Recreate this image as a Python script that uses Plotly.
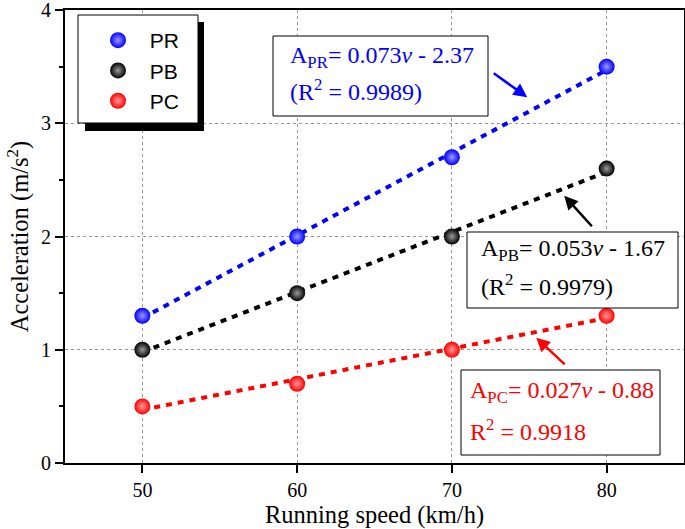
import plotly.graph_objects as go

# ---- data ----
speed = [50, 60, 70, 80]
pr = [1.3, 2.0, 2.7, 3.5]
pb = [1.0, 1.5, 2.0, 2.6]
pc = [0.5, 0.7, 1.0, 1.3]

fit_x = [50, 80]
pr_fit = [1.28, 3.47]
pb_fit = [0.98, 2.57]
pc_fit = [0.47, 1.28]

series_names = ["PR", "PB", "PC"]
colors = ["#0000ff", "#000000", "#ff0000"]
highlight = ["#9a9aff", "#9a9a9a", "#ff9a9a"]

x_ticks = [50, 60, 70, 80]
y_ticks = [0, 1, 2, 3, 4]

W, H = 685, 529
L, R, T, B = 65, 684, 10, 463  # plot area in px


def px(x):
    return (x - L) / (R - L)


def py(y):
    return (B - y) / (B - T)


SERIF = "Liberation Serif, Times New Roman, serif"
SANS = "Liberation Sans, Arial, sans-serif"

fig = go.Figure()

fits = [pr_fit, pb_fit, pc_fit]
vals = [pr, pb, pc]
for name, c, f in zip(series_names, colors, fits):
    fig.add_trace(go.Scatter(x=fit_x, y=f, mode="lines", showlegend=False,
                             line=dict(color=c, width=4, dash="6px,6px"),
                             hoverinfo="skip"))
for name, c, h, v in zip(series_names, colors, highlight, vals):
    fig.add_trace(go.Scatter(x=speed, y=v, mode="markers", name="\u00a0\u00a0" + name,
                             marker=dict(size=16, color=c,
                                         gradient=dict(type="radial", color=h),
                                         line=dict(width=0))))

shapes = [
    # legend shadow + box
    dict(type="rect", xref="paper", yref="paper", x0=px(85), x1=px(204), y0=py(131), y1=py(22),
         fillcolor="black", line=dict(width=0), layer="above"),
    dict(type="rect", xref="paper", yref="paper", x0=px(78), x1=px(198), y0=py(123), y1=py(15),
         fillcolor="white", line=dict(color="black", width=1), layer="above"),
    # equation boxes
    dict(type="rect", xref="paper", yref="paper", x0=px(273), x1=px(488), y0=py(116), y1=py(36),
         fillcolor="white", line=dict(color="black", width=1), layer="above"),
    dict(type="rect", xref="paper", yref="paper", x0=px(467), x1=px(678), y0=py(308), y1=py(232),
         fillcolor="white", line=dict(color="black", width=1), layer="above"),
    dict(type="rect", xref="paper", yref="paper", x0=px(461), x1=px(660), y0=py(455), y1=py(370),
         fillcolor="white", line=dict(color="black", width=1), layer="above"),
]

eq_lines = [
    ("A<sub>PR</sub>= 0.073<i>v</i> - 2.37", 288, 57, colors[0]),
    ("(R<sup>2</sup> = 0.9989)", 288, 90, colors[0]),
    ("A<sub>PB</sub>= 0.053<i>v</i> - 1.67", 479, 250, colors[1]),
    ("(R<sup>2</sup> = 0.9979)", 479, 285, colors[1]),
    ("A<sub>PC</sub>= 0.027<i>v</i> - 0.88", 468, 392, colors[2]),
    ("R<sup>2</sup> = 0.9918", 468, 430, colors[2]),
]
annotations = []
for text, x0, ymid, c in eq_lines:
    annotations.append(dict(text=text, xref="paper", yref="paper", x=px(x0), y=py(ymid),
                            xanchor="left", yanchor="middle", showarrow=False,
                            font=dict(family=SERIF, size=24, color=c)))

# arrows: head in data coords, tail offset in px
arrows = [
    (74.87, 3.23, -35, -25, colors[0]),
    (77.26, 2.36, 29, 32, colors[1]),
    (75.45, 1.106, 30, 28, colors[2]),
]
for x, y, ax, ay, c in arrows:
    annotations.append(dict(x=x, y=y, xref="x", yref="y", ax=ax, ay=ay, text="",
                            showarrow=True, arrowhead=2, arrowsize=1.1, arrowwidth=2.5,
                            arrowcolor=c))

fig.update_layout(
    width=W, height=H,
    margin=dict(l=L, r=W - R, t=T, b=H - B, autoexpand=False),
    paper_bgcolor="white", plot_bgcolor="white",
    shapes=shapes, annotations=annotations,
    legend=dict(x=px(98), y=py(20), xanchor="left", yanchor="top",
                bgcolor="rgba(0,0,0,0)", borderwidth=0,
                font=dict(family=SANS, size=21, color="black")),
    xaxis=dict(range=[45, 85], tickvals=x_ticks, ticks="outside", ticklen=8, tickwidth=2,
               tickcolor="black", showline=True, linewidth=2, linecolor="black", mirror=True,
               showgrid=True, gridcolor="#999999", gridwidth=1, griddash="3px,3px",
               zeroline=False, automargin=False, ticklabeloverflow="allow",
               tickfont=dict(family=SERIF, size=20, color="black"),
               title=dict(text="Running speed (km/h)", font=dict(family=SERIF, size=24.5, color="black"),
                          standoff=3)),
    yaxis=dict(range=[0, 4.0001], tickvals=y_ticks, ticks="outside", ticklen=8, tickwidth=2,
               tickcolor="black", showline=True, linewidth=2, linecolor="black", mirror=True,
               showgrid=True, gridcolor="#999999", gridwidth=1, griddash="3px,3px",
               zeroline=False, automargin=False, ticklabeloverflow="allow",
               tickfont=dict(family=SERIF, size=20, color="black"),
               minor=dict(dtick=0.5, ticks="outside", ticklen=4, tickwidth=2, tickcolor="black",
                          showgrid=False),
               title=dict(text="Acceleration (m/s<sup>2</sup>)", font=dict(family=SERIF, size=24.5, color="black"),
                          standoff=5)),
)

fig.write_html("out.html", config={"displayModeBar": False},
               post_script="document.body.style.margin='0';document.body.style.overflow='hidden';")
